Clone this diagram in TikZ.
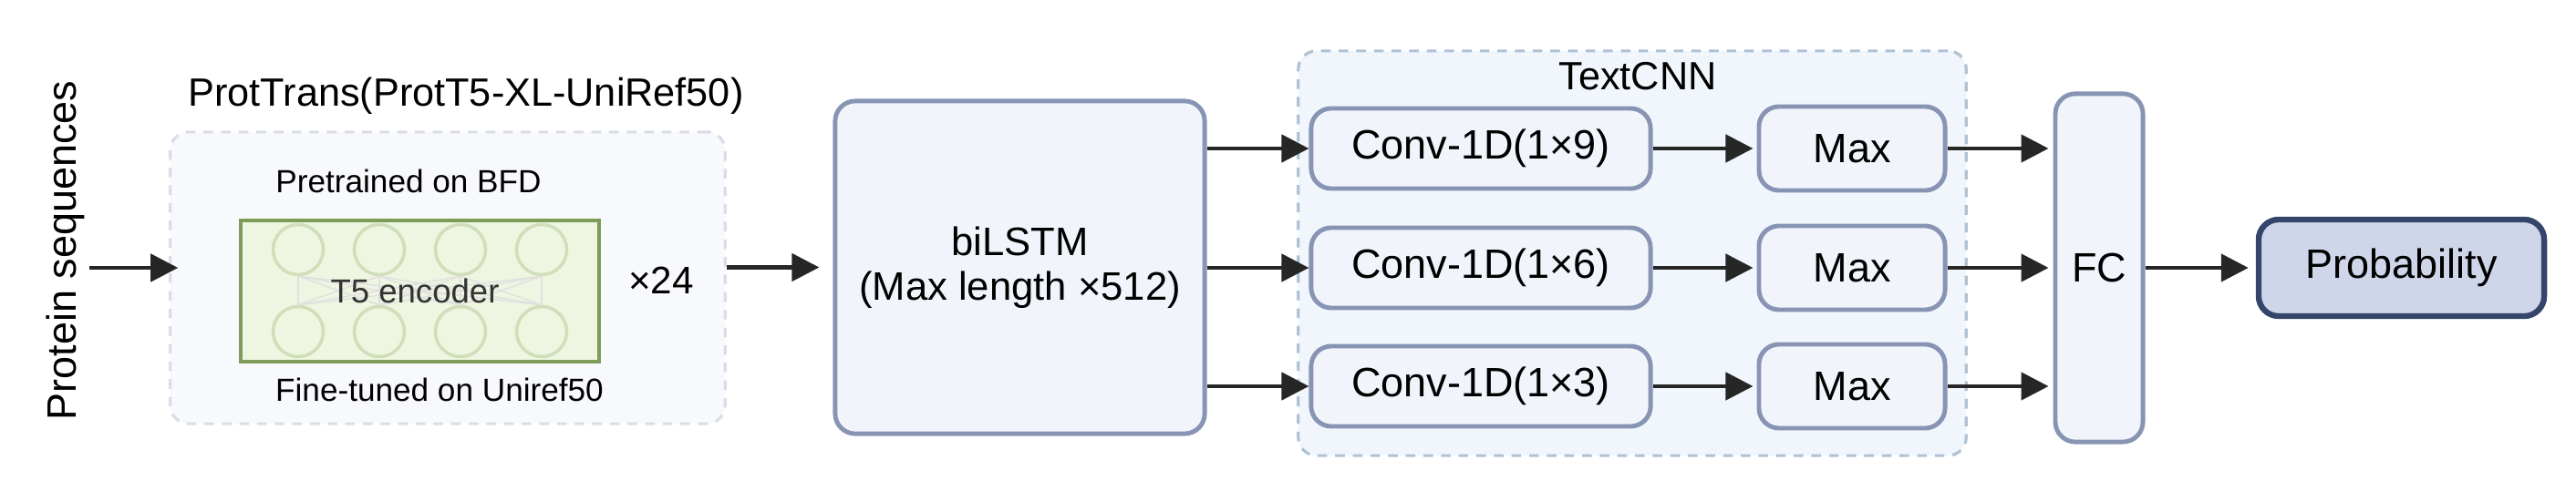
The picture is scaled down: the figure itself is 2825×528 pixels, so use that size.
\documentclass[tikz,border=0pt]{standalone}
\usepackage{fontspec}
\setmainfont{Liberation Sans}
\usetikzlibrary{arrows.meta}
\definecolor{boxfill}{HTML}{F1F5FB}
\definecolor{boxline}{HTML}{8794B4}
\definecolor{protfill}{HTML}{F8F9FD}
\definecolor{protline}{HTML}{D9DDE8}
\definecolor{cnnfill}{HTML}{F1F6FC}
\definecolor{cnnline}{HTML}{AFC2D4}
\definecolor{probfill}{HTML}{D0D6E9}
\definecolor{probline}{HTML}{34446B}
\definecolor{encfill}{HTML}{EEF6E1}
\definecolor{encline}{HTML}{7E9B57}
\definecolor{circline}{HTML}{D0DEB9}
\definecolor{arrcol}{HTML}{262626}
\begin{document}
\begin{tikzpicture}[x=0.01cm,y=-0.01cm,
  blk/.style={draw=boxline,fill=boxfill,line width=1.4pt,rounded corners=0.22cm,inner sep=0pt,font=\fontsize{12.8}{15}\selectfont},
  grp/.style={dash pattern=on 3pt off 2.5pt,line width=0.9pt,rounded corners=0.2cm,inner sep=0pt},
  circ/.style={circle,draw=circline,line width=1pt,minimum size=0.55cm,inner sep=0pt},
  lbl/.style={anchor=base,inner sep=0pt,font=\fontsize{10}{12}\selectfont},
  arr/.style={-{Triangle[length=0.3cm,width=0.3cm]},line width=1.3pt,draw=arrcol}]
\useasboundingbox (0,0) rectangle (2825,528);
\node[rotate=90,font=\fontsize{12.8}{15}\selectfont] (seq) at (72,275) {Protein sequences};
\node[grp,draw=protline,fill=protfill,minimum width=6.08cm,minimum height=3.2cm] (prot) at (491,305) {};
\node[lbl,font=\fontsize{12.3}{14}\selectfont] (prottitle) at (511,117) {ProtTrans(ProtT5-XL-UniRef50)};
\node[lbl] (pre) at (448,212) {Pretrained on BFD};
\node[draw=encline,fill=encfill,line width=1.2pt,minimum width=3.93cm,minimum height=1.55cm,inner sep=0pt] (enc) at (460.5,319.5) {};
\foreach \i in {0,...,3}{
  \node[circ] (top\i) at (327+89*\i,274) {};
  \node[circ] (bot\i) at (327+89*\i,364) {};
}
\foreach \i in {0,...,3}
  \foreach \j in {0,...,3}
    \draw[black!12,line width=0.4pt] (top\i.south) -- (bot\j.north);
\node[lbl,text=black!80,font=\fontsize{10.4}{12}\selectfont] (t5) at (455,333) {T5 encoder};
\node[lbl] (fine) at (482,441) {Fine-tuned on Uniref50};
\node[lbl,font=\fontsize{12}{14}\selectfont] (rep) at (725,323) {×24};
\coordinate (seqin) at (98,294);
\draw[arr,shorten >=-0.1cm] (seqin) -- (seqin -| prot.west);
\node[blk,minimum width=4.05cm,minimum height=3.65cm,align=center,font=\fontsize{12.4}{14}\selectfont] (bilstm) at (1118.5,293.5) {biLSTM\\(Max length ×512)};
\draw[arr,shorten >=0.15cm] (prot.east |- bilstm) -- (bilstm.west);
\node[grp,draw=cnnline,fill=cnnfill,minimum width=7.32cm,minimum height=4.44cm] (cnn) at (1790,278) {};
\node[lbl,font=\fontsize{12.3}{14}\selectfont] (cnntitle) at (1796,99) {TextCNN};
\node[blk,minimum width=0.96cm,minimum height=3.82cm] (fc) at (2302,294) {FC};
\node[blk,draw=probline,fill=probfill,line width=1.8pt,minimum width=3.13cm,minimum height=1.06cm] (prob) at (2633.5,294) {Probability};
\foreach \k/\n/\y in {1/9/163,2/6/294,3/3/424}{
  \node[blk,minimum width=3.72cm,minimum height=0.88cm] (conv\k) at (1624,\y) {Conv-1D(1×\n)};
  \node[blk,minimum width=2.04cm,minimum height=0.92cm] (max\k) at (2031,\y) {Max};
  \draw[arr] (bilstm.east |- conv\k) -- (conv\k.west);
  \draw[arr,shorten >=0.04cm] (conv\k) -- (max\k);
  \draw[arr,shorten >=0.05cm] (max\k) -- (fc.west |- max\k);
}
\draw[arr,shorten >=0.08cm] (fc) -- (prob);
\end{tikzpicture}
\end{document}
